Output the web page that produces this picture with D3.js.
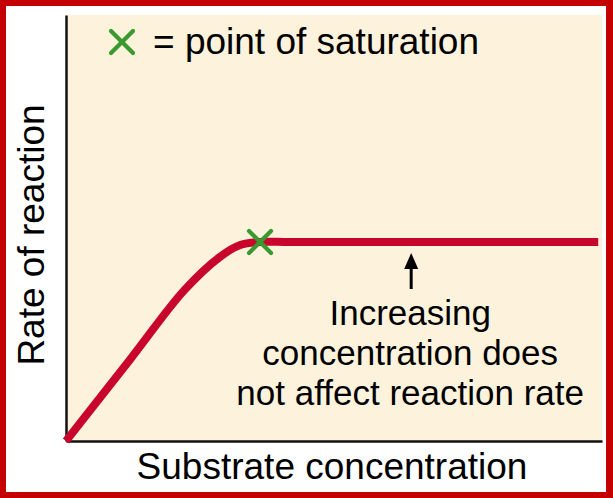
<!DOCTYPE html>
<html>
<head>
<meta charset="utf-8">
<script src="https://cdn.jsdelivr.net/npm/d3@7"></script>
<style>
  html, body { margin: 0; padding: 0; background: #fff; }
  svg { display: block; }
  text { font-family: "Liberation Sans", Arial, Helvetica, sans-serif; fill: #000; }
</style>
</head>
<body>
<svg id="chart" width="613" height="498"></svg>
<script>
// ---- data ----
const substrate = [0, 12, 22, 28.7, 32.5, 36.2, 42, 99.3];
const rate      = [0, 19.2, 35.3, 43.2, 46, 46.7, 46.7, 46.7];
const saturationX = 36.2;
const saturationY = 46.7;
const arrowX = 64.4;
const xLabel = "Substrate concentration";
const yLabel = "Rate of reaction";
const legendLabel = "= point of saturation";
const noteLines = ["Increasing", "concentration does", "not affect reaction rate"];

const W = 613, H = 498;
const plot = {left: 66, right: 602, top: 15, bottom: 441};
const svg = d3.select("#chart");

// outer red frame
svg.append("rect").attr("x", 0).attr("y", 0).attr("width", W).attr("height", H).attr("fill", "#c40000");
svg.append("rect").attr("x", 6).attr("y", 6).attr("width", 600).attr("height", 486).attr("fill", "#ffffff");

// plot background
svg.append("rect").attr("x", plot.left).attr("y", plot.top)
  .attr("width", plot.right - plot.left).attr("height", plot.bottom - plot.top)
  .attr("fill", "#fdf3dc");

const x = d3.scaleLinear().domain([0, 100]).range([plot.left, plot.right]);
const y = d3.scaleLinear().domain([0, 100]).range([plot.bottom, plot.top]);

// axes (no ticks)
const xAxis = svg.append("g").attr("transform", `translate(0,${plot.bottom})`)
  .call(d3.axisBottom(x).tickValues([]).tickSizeOuter(0));
const yAxis = svg.append("g").attr("transform", `translate(${plot.left},0)`)
  .call(d3.axisLeft(y).tickValues([]).tickSizeOuter(0));
[xAxis, yAxis].forEach(g => g.select(".domain").attr("stroke", "#111").attr("stroke-width", 2.5));

// curve
const pts = substrate.map((s, i) => [s, rate[i]]);
const line = d3.line().x(d => x(d[0])).y(d => y(d[1])).curve(d3.curveCatmullRom.alpha(0.5));
svg.append("path").datum(pts).attr("d", line)
  .attr("fill", "none").attr("stroke", "#c8062c").attr("stroke-width", 8)
  .attr("stroke-linecap", "butt");

// X marker helper
function cross(cx, cy, r) {
  const g = svg.append("g").attr("stroke", "#3a9a30").attr("stroke-width", 4.2).attr("stroke-linecap", "round");
  g.append("line").attr("x1", cx - r).attr("y1", cy - r).attr("x2", cx + r).attr("y2", cy + r);
  g.append("line").attr("x1", cx - r).attr("y1", cy + r).attr("x2", cx + r).attr("y2", cy - r);
}
cross(x(saturationX), y(saturationY), 11);

// legend
cross(122, 42, 11);
svg.append("text").attr("x", 153).attr("y", 54).attr("font-size", 37).text(legendLabel);

// arrow
const ax = x(arrowX), tipY = y(saturationY) + 11, baseY = 289;
svg.append("line").attr("x1", ax).attr("x2", ax).attr("y1", tipY + 12).attr("y2", baseY)
  .attr("stroke", "#000").attr("stroke-width", 3);
svg.append("path")
  .attr("d", `M${ax},${tipY} L${ax - 7},${tipY + 16} L${ax + 7},${tipY + 16} Z`)
  .attr("fill", "#000");

// annotation
const note = svg.append("text").attr("text-anchor", "middle").attr("font-size", 35);
noteLines.forEach((t, i) => {
  note.append("tspan").attr("x", ax - 1).attr("y", 325 + i * 40).text(t);
});

// axis labels
svg.append("text").attr("x", (137 + 527) / 2).attr("y", 479)
  .attr("text-anchor", "middle").attr("font-size", 37).text(xLabel);
svg.append("text").attr("transform", "translate(44,235) rotate(-90)")
  .attr("text-anchor", "middle").attr("font-size", 37).text(yLabel);
</script>
</body>
</html>
